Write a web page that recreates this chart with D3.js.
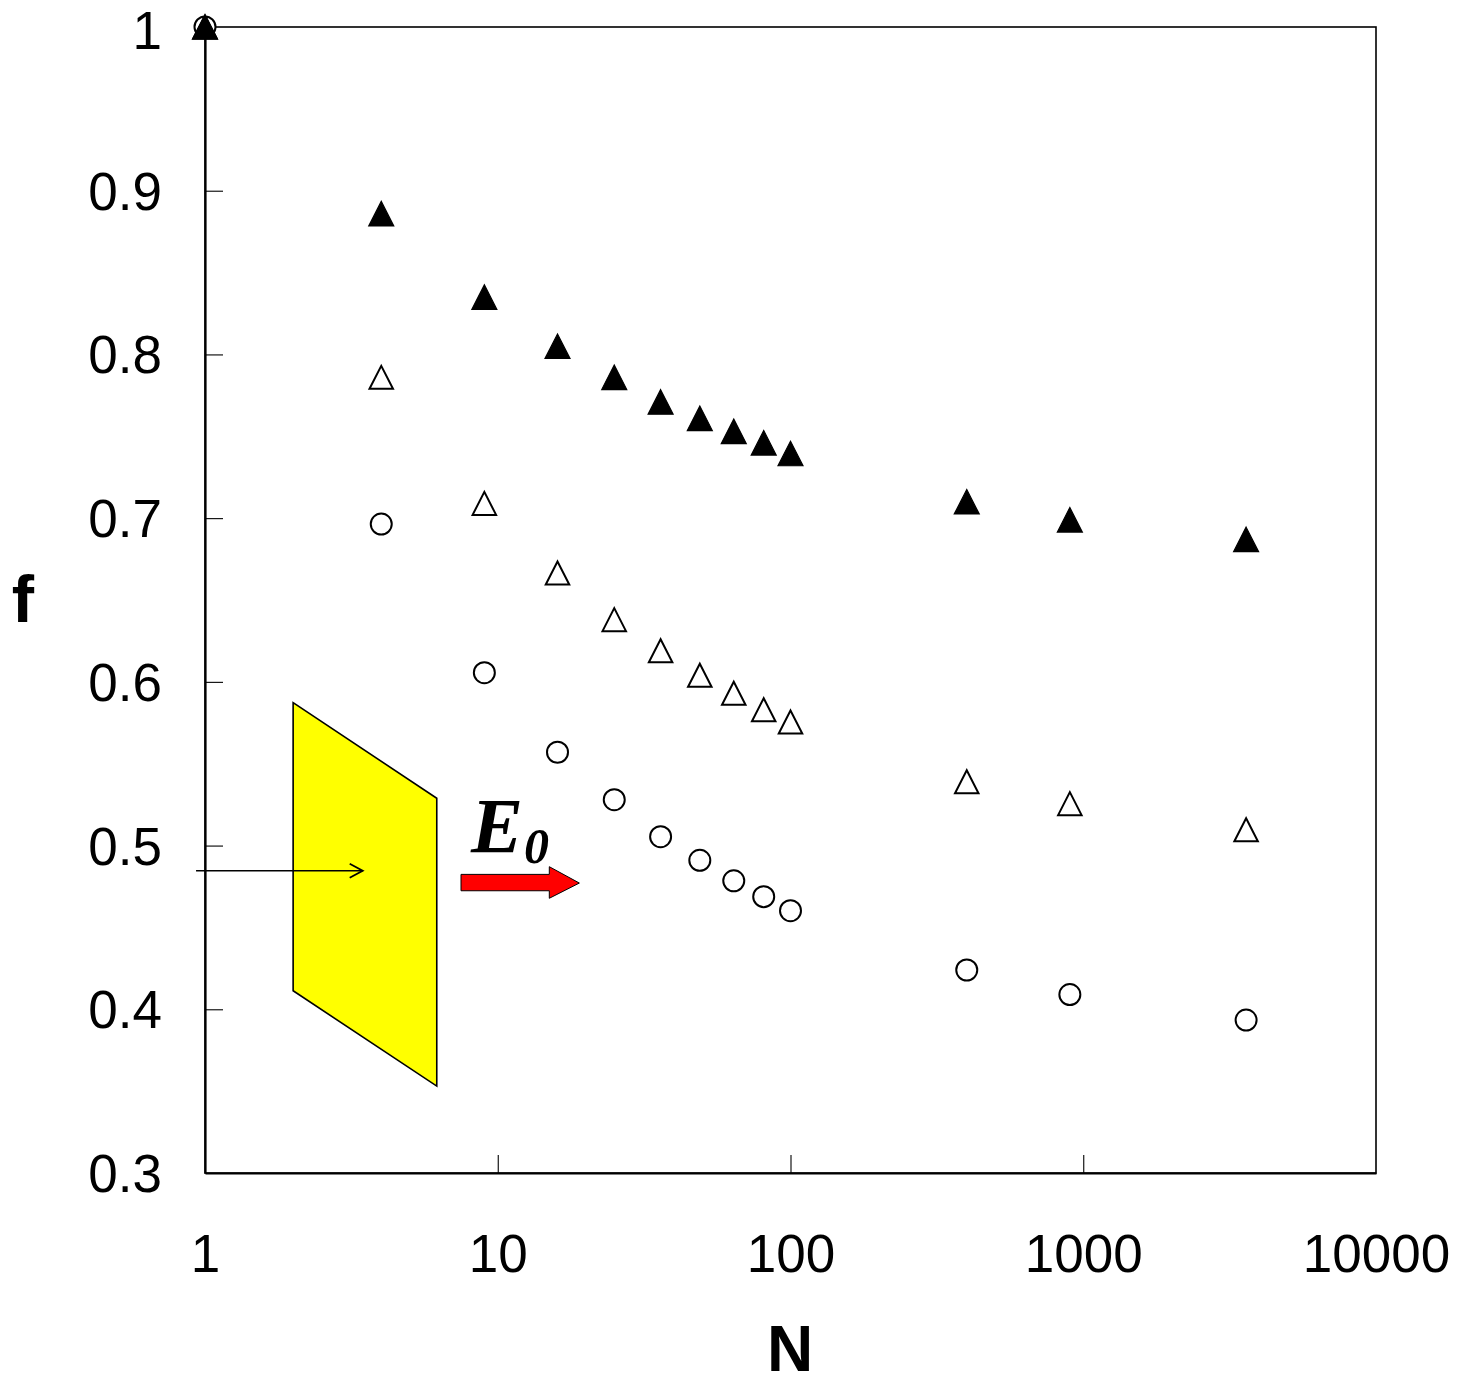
<!DOCTYPE html>
<html>
<head>
<meta charset="utf-8">
<script src="https://cdn.jsdelivr.net/npm/d3@7"></script>
<style>
  html, body { margin: 0; padding: 0; background: #fff; }
  svg { display: block; }
</style>
</head>
<body>
<div id="chart"></div>
<script>
// ---- Data ----
const N = [1, 4, 9, 16, 25, 36, 49, 64, 81, 100, 400, 900, 3600];
const fFilledTriangle = [1.0, 0.886, 0.835, 0.805, 0.786, 0.771, 0.761, 0.753, 0.746, 0.7395, 0.710, 0.699, 0.687];
const fOpenTriangle   = [1.0, 0.786, 0.709, 0.6665, 0.638, 0.619, 0.604, 0.593, 0.583, 0.5755, 0.539, 0.5256, 0.5097];
const fOpenCircle     = [1.0, 0.6964, 0.6056, 0.557, 0.528, 0.5054, 0.491, 0.4785, 0.4688, 0.4602, 0.424, 0.409, 0.3934];

const xTickValues = [1, 10, 100, 1000, 10000];
const xTickLabels = ["1", "10", "100", "1000", "10000"];
const yTickValues = [0.3, 0.4, 0.5, 0.6, 0.7, 0.8, 0.9, 1.0];
const yTickLabels = ["0.3", "0.4", "0.5", "0.6", "0.7", "0.8", "0.9", "1"];

const xLabel = "N";
const yLabel = "f";

// Annotation (inset sketch) in data coordinates [N, f]
const plateCorners = [[2.0, 0.5873], [6.19, 0.5289], [6.19, 0.3531], [2.0, 0.4113]];
const thinArrow = [[0.932, 0.4846], [3.457, 0.4846]];
const redArrowN = { tail: 7.49, neck: 15.0, tip: 19.0 };
const redArrowF = { shaftTop: 0.4824, shaftBottom: 0.4724, headTop: 0.4871, headBottom: 0.4678, tip: 0.4771 };
const fieldLabelPos = [8.1, 0.496];

// ---- Layout ----
const W = 1461, H = 1385;
const plot = { left: 205, right: 1376, top: 27, bottom: 1173 };

const svg = d3.select("#chart").append("svg")
  .attr("width", W).attr("height", H)
  .attr("viewBox", `0 0 ${W} ${H}`);

const x = d3.scaleLog().domain([1, 10000]).range([plot.left, plot.right]);
const y = d3.scaleLinear().domain([0.3, 1.0]).range([plot.bottom, plot.top]);

const tickFont = "Liberation Sans, Arial, Helvetica, sans-serif";

// Frame (top and right)
svg.append("rect")
  .attr("x", plot.left).attr("y", plot.top)
  .attr("width", plot.right - plot.left).attr("height", plot.bottom - plot.top)
  .attr("fill", "none").attr("stroke", "#000").attr("stroke-width", 1.6);

// X axis (ticks inward)
const xAxis = d3.axisBottom(x)
  .tickValues(xTickValues)
  .tickSize(-18)
  .tickSizeOuter(0)
  .tickFormat((d, i) => xTickLabels[i]);
const gx = svg.append("g").attr("transform", `translate(0,${plot.bottom})`).call(xAxis);
gx.select(".domain").attr("stroke", "#000").attr("stroke-width", 2.2);
gx.selectAll(".tick line").attr("stroke", "#000").attr("stroke-width", 1.1);
gx.selectAll(".tick text")
  .attr("y", 99).attr("dy", 0)
  .attr("font-family", tickFont).attr("font-size", 53).attr("fill", "#000");

// Y axis (ticks inward)
const yAxis = d3.axisLeft(y)
  .tickValues(yTickValues)
  .tickSize(-18)
  .tickSizeOuter(0)
  .tickFormat((d, i) => yTickLabels[i]);
const gy = svg.append("g").attr("transform", `translate(${plot.left},0)`).call(yAxis);
gy.select(".domain").attr("stroke", "#000").attr("stroke-width", 2.2);
gy.selectAll(".tick line").attr("stroke", "#000").attr("stroke-width", 1.1);
gy.selectAll(".tick text")
  .attr("x", -43).attr("dy", "0.35em")
  .attr("font-family", tickFont).attr("font-size", 53).attr("fill", "#000");
// keep the top label inside the page
gy.selectAll(".tick").filter(d => d === 1.0).select("text").attr("dy", "0.41em");
// hide ticks that coincide with frame
gx.selectAll(".tick").filter(d => d === 1 || d === 10000).select("line").remove();
gy.selectAll(".tick").filter(d => d === 0.3 || d === 1.0).select("line").remove();

// Axis titles
svg.append("text")
  .attr("x", (plot.left + plot.right) / 2 - 0.5).attr("y", 1371)
  .attr("text-anchor", "middle")
  .attr("font-family", tickFont).attr("font-weight", "bold").attr("font-size", 64)
  .text(xLabel);
svg.append("text")
  .attr("x", 23).attr("y", 622)
  .attr("text-anchor", "middle")
  .attr("font-family", tickFont).attr("font-weight", "bold").attr("font-size", 67)
  .text(yLabel);

// ---- Inset sketch ----
const ann = svg.append("g");
ann.append("polygon")
  .attr("points", plateCorners.map(p => [x(p[0]), y(p[1])].join(",")).join(" "))
  .attr("fill", "#ffff00").attr("stroke", "#000").attr("stroke-width", 1.6)
  .attr("stroke-linejoin", "miter");

const ta0 = [x(thinArrow[0][0]), y(thinArrow[0][1])];
const ta1 = [x(thinArrow[1][0]), y(thinArrow[1][1])];
ann.append("line")
  .attr("x1", ta0[0]).attr("y1", ta0[1]).attr("x2", ta1[0]).attr("y2", ta1[1])
  .attr("stroke", "#000").attr("stroke-width", 1.6);
ann.append("path")
  .attr("d", `M${ta1[0] - 13},${ta1[1] - 7} L${ta1[0]},${ta1[1]} L${ta1[0] - 13},${ta1[1] + 7}`)
  .attr("fill", "none").attr("stroke", "#000").attr("stroke-width", 1.8);

const ra = [
  [redArrowN.tail, redArrowF.shaftTop],
  [redArrowN.neck, redArrowF.shaftTop],
  [redArrowN.neck, redArrowF.headTop],
  [redArrowN.tip, redArrowF.tip],
  [redArrowN.neck, redArrowF.headBottom],
  [redArrowN.neck, redArrowF.shaftBottom],
  [redArrowN.tail, redArrowF.shaftBottom]
];
ann.append("polygon")
  .attr("points", ra.map(p => [x(p[0]), y(p[1])].join(",")).join(" "))
  .attr("fill", "#ff0000").attr("stroke", "#000").attr("stroke-width", 1);

const lbl = ann.append("text")
  .attr("x", x(fieldLabelPos[0])).attr("y", y(fieldLabelPos[1]))
  .attr("font-family", "Liberation Serif, Times New Roman, serif")
  .attr("font-weight", "bold").attr("font-style", "italic")
  .attr("font-size", 78);
lbl.append("tspan").text("E");
lbl.append("tspan").attr("dy", 11).attr("dx", 1).attr("font-size", 50).text("0");

// ---- Data markers ----
const triPath = (w, h) => `M0,${-h / 2} L${w / 2},${h / 2} L${-w / 2},${h / 2} Z`;

const circles = N.map((n, i) => ({ n, f: fOpenCircle[i] }));
const openTri = N.map((n, i) => ({ n, f: fOpenTriangle[i] }));
const filledTri = N.map((n, i) => ({ n, f: fFilledTriangle[i] }));

svg.append("g").selectAll("circle").data(circles).join("circle")
  .attr("cx", d => x(d.n)).attr("cy", d => y(d.f)).attr("r", 10.5)
  .attr("fill", "#fff").attr("stroke", "#000").attr("stroke-width", 2);

svg.append("g").selectAll("path").data(openTri).join("path")
  .attr("transform", d => `translate(${x(d.n)},${y(d.f)})`)
  .attr("d", triPath(23.5, 23))
  .attr("fill", "#fff").attr("stroke", "#000").attr("stroke-width", 2)
  .attr("stroke-linejoin", "miter");

svg.append("g").selectAll("path").data(filledTri).join("path")
  .attr("transform", d => `translate(${x(d.n)},${y(d.f)})`)
  .attr("d", triPath(25, 24.5))
  .attr("fill", "#000").attr("stroke", "#000").attr("stroke-width", 1.2)
  .attr("stroke-linejoin", "miter");
</script>
</body>
</html>
